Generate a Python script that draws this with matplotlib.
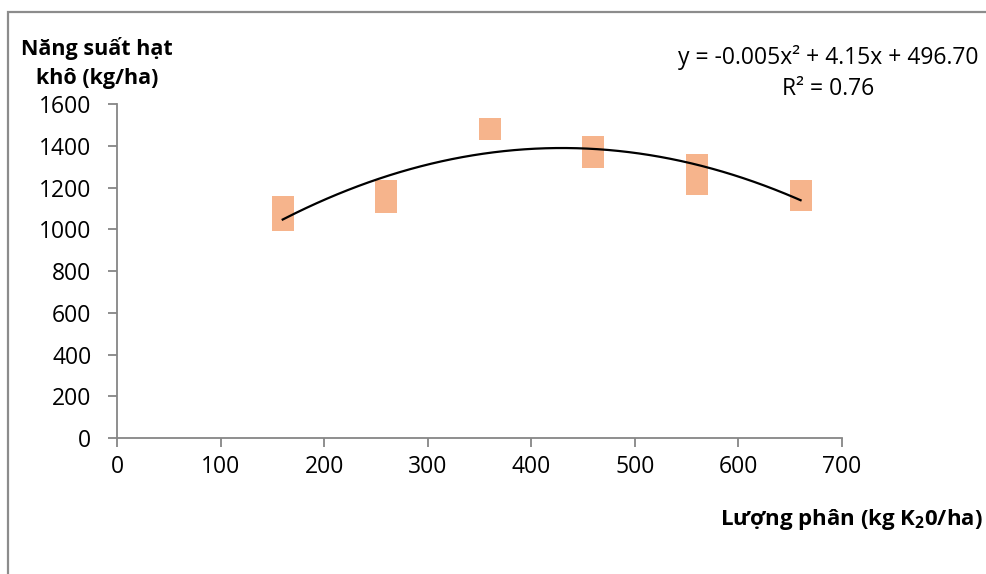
import matplotlib
matplotlib.use('Agg')
import matplotlib.pyplot as plt
from matplotlib.patches import Rectangle
import numpy as np

plt.rcParams['font.family'] = ['Open Sans', 'DejaVu Sans']
plt.rcParams['mathtext.fontset'] = 'custom'
plt.rcParams['mathtext.rm'] = 'Open Sans'
plt.rcParams['mathtext.bf'] = 'Open Sans:bold'

# Potassium rates (kg K2O/ha), three replicates each
k_rate = [160, 160, 160, 260, 260, 260, 360, 360, 360,
          460, 460, 460, 560, 560, 560, 660, 660, 660]
# Dry seed yield (kg/ha)
yield_kg = [1105, 1070, 1045, 1182, 1155, 1130, 1478, 1478, 1478,
            1393, 1370, 1346, 1306, 1262, 1218, 1182, 1160, 1140]

eq_text = 'y = -0.005x\u00b2 + 4.15x + 496.70\nR\u00b2 = 0.76'

x_ticks = [0, 100, 200, 300, 400, 500, 600, 700]
y_ticks = [0, 200, 400, 600, 800, 1000, 1200, 1400, 1600]

fig = plt.figure(figsize=(9.87, 5.74), dpi=100)
ax = fig.add_axes([117 / 987, 136 / 574, 725 / 987, 334 / 574])

ax.plot(k_rate, yield_kg, linestyle='none', marker='s', markersize=16.5,
        color='#F6B48C', markeredgewidth=0, zorder=2)

# second-order trendline fitted to the data
coef = np.polyfit(k_rate, yield_kg, 2)
xs = np.linspace(min(k_rate), max(k_rate), 200)
ax.plot(xs, np.polyval(coef, xs), color='black', linewidth=1.6, zorder=3)

ax.set_xlim(0, 700)
ax.set_ylim(0, 1600)
ax.set_xticks(x_ticks)
ax.set_yticks(y_ticks)
for s in ['top', 'right']:
    ax.spines[s].set_visible(False)
for s in ['left', 'bottom']:
    ax.spines[s].set_color('#868686')
    ax.spines[s].set_linewidth(1.3)
ax.tick_params(axis='both', direction='out', length=6.5, width=1.3,
               color='#868686', labelsize=16.5, labelcolor='black')
ax.tick_params(axis='x', pad=6)
ax.tick_params(axis='y', pad=12)

fig.text(97 / 987, 1 - 63 / 574, 'Năng suất hạt\nkhô (kg/ha)',
         ha='center', va='center', fontsize=15.5, fontweight='bold',
         linespacing=1.45)
fig.text(983 / 987, 1 - 520 / 574, r'Lượng phân (kg K$_{\mathbf{2}}$0/ha)',
         ha='right', va='center', fontsize=16, fontweight='bold')
fig.text(828 / 987, 1 - 73 / 574, eq_text, ha='center', va='center',
         fontsize=16.5, linespacing=1.35)

# chart area frame
fig.patches.append(Rectangle((8.5 / 987, -0.05), 1.1, (574 - 11.5) / 574 + 0.05,
                             transform=fig.transFigure, fill=False,
                             edgecolor='#8C8C8C', linewidth=1.6))

fig.savefig('out.png', dpi=100)
